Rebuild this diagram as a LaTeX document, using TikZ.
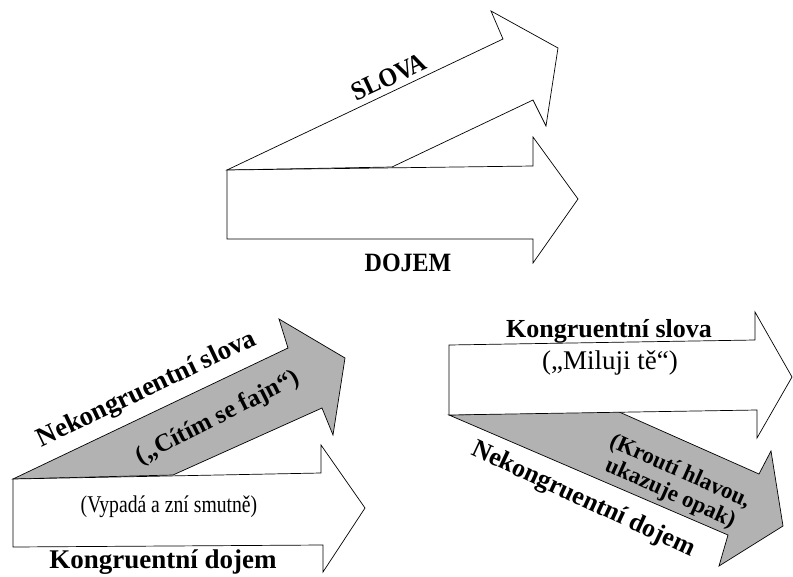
\documentclass[tikz,border=0pt]{standalone}
\usepackage{fontspec}
\setmainfont{Liberation Serif}
\begin{document}
\begin{tikzpicture}[x=1pt,y=-1pt,
  arrowshape/.style={draw=black, line width=0.7pt, line join=miter},
  whitearrow/.style={arrowshape, fill=white},
  grayarrow/.style={arrowshape, fill=black!30},
  biglabel/.style={font=\fontsize{24}{28}\selectfont\bfseries, inner sep=0pt},
  boldlabel/.style={font=\fontsize{27}{30}\selectfont\bfseries, inner sep=0pt},
  boldsmall/.style={font=\fontsize{23}{24}\selectfont\bfseries, inner sep=0pt, align=center},
  plainlabel/.style={font=\fontsize{24}{28}\selectfont, inner sep=0pt}]
\useasboundingbox (0,0) rectangle (793,576);
\fill[white] (0,0) rectangle (793,576);

% top pair
\draw[whitearrow] (227,170) -- (503,39) -- (491,11) -- (558,48) -- (546,126) -- (533,100) -- (392,167) -- cycle;
\draw[whitearrow] (227,170) -- (533,166) -- (533,137) -- (578,199) -- (533,263) -- (533,239) -- (227,239) -- cycle;
\node[biglabel, rotate=25, yscale=1.1] (slova) at (389,77) {SLOVA};
\node[biglabel, yscale=1.1] (dojem) at (408,263) {DOJEM};

% bottom left pair
\draw[grayarrow] (13,479) -- (288,348) -- (279,319) -- (345,358) -- (333,435) -- (322,408) -- (173,475) -- cycle;
\draw[whitearrow] (13,479) -- (321,473) -- (321,445) -- (365,508) -- (323,572) -- (323,545) -- (13,547) -- cycle;
\node[boldlabel, rotate=25.5] (nslova) at (147,390) {Nekongruentní slova};
\node[boldsmall, font=\fontsize{25}{26}\selectfont\bfseries, rotate=27] (fajn) at (218,418) {(„Cítím se fajn“)};
\node[plainlabel, xscale=0.82] (smutne) at (169,507) {(Vypadá a zní smutně)};
\node[boldlabel, anchor=base] (kdojem) at (163,568) {Kongruentní dojem};

% bottom right pair
\draw[grayarrow] (449,415) -- (617,411) -- (759,474) -- (771,451) -- (783,526) -- (719,566) -- (728,535) -- cycle;
\draw[whitearrow] (449,345) -- (755,340) -- (755,312) -- (792,377) -- (757,438) -- (757,410) -- (449,415) -- cycle;
\node[boldlabel, font=\fontsize{26}{30}\selectfont\bfseries, anchor=base] (kslova) at (609,337) {Kongruentní slova};
\node[plainlabel, font=\fontsize{27}{30}\selectfont] (miluji) at (610,363) {(„Miluji tě“)};
\node[boldsmall, rotate=-24] (krouti) at (675,483) {(Kroutí hlavou,\\ukazuje opak)};
\node[boldlabel, font=\fontsize{26}{30}\selectfont\bfseries, rotate=-25] (ndojem) at (583,500) {Nekongruentní dojem};
\end{tikzpicture}
\end{document}
